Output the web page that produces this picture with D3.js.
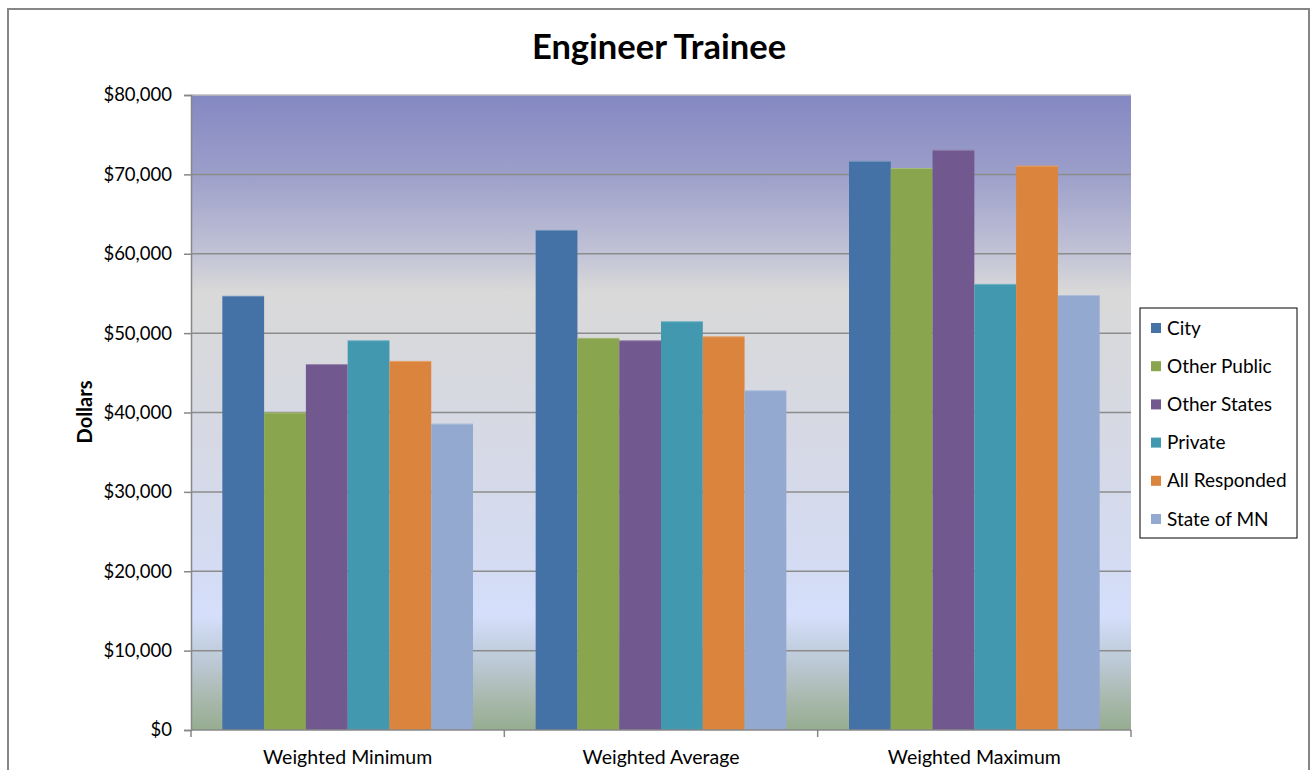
<!DOCTYPE html>
<html>
<head>
<meta charset="utf-8">
<script src="https://cdn.jsdelivr.net/npm/d3@7"></script>
<style>
  html, body { margin: 0; padding: 0; background: #ffffff; }
  svg { display: block; }
  text { font-family: Lato, "Open Sans", sans-serif; fill: #000; }
</style>
</head>
<body>
<svg id="chart" width="1310" height="770"></svg>
<script>
// Engineer Trainee salary survey
const categories = ["Weighted Minimum", "Weighted Average", "Weighted Maximum"];
const seriesNames = ["City", "Other Public", "Other States", "Private", "All Responded", "State of MN"];
const seriesColors = ["#4472A7", "#89A54E", "#71588F", "#4198AF", "#DB843D", "#93A9CF"];

const city         = [54700, 63000, 71700];
const otherPublic  = [40000, 49400, 70800];
const otherStates  = [46100, 49100, 73100];
const privateSec   = [49100, 51500, 56200];
const allResponded = [46500, 49600, 71100];
const stateOfMN    = [38600, 42800, 54800];

const yTickValues = [0, 10000, 20000, 30000, 40000, 50000, 60000, 70000, 80000];

const seriesValues = [city, otherPublic, otherStates, privateSec, allResponded, stateOfMN];

const rows = categories.map((c, i) => ({
  category: c,
  values: seriesNames.map((s, j) => ({ series: s, value: seriesValues[j][i], color: seriesColors[j] }))
}));

const svg = d3.select("#chart");

// chart frame
svg.append("rect")
  .attr("x", 8).attr("y", 9).attr("width", 1301).attr("height", 780)
  .attr("fill", "#fff").attr("stroke", "#868686").attr("stroke-width", 2);

const plot = { left: 191, right: 1131, top: 95, bottom: 730 };

const x0 = d3.scaleBand()
  .domain(categories)
  .range([plot.left, plot.right])
  .paddingInner(0.2)
  .paddingOuter(0.1);

const x1 = d3.scaleBand()
  .domain(seriesNames)
  .range([0, x0.bandwidth()]);

const y = d3.scaleLinear()
  .domain([0, 80000])
  .range([plot.bottom, plot.top]);

// plot area background
const defs = svg.append("defs");
const grad = defs.append("linearGradient")
  .attr("id", "plotBg").attr("x1", 0).attr("y1", 0).attr("x2", 0).attr("y2", 1);
[
  [0.00, "#8488C2"],
  [0.12, "#9B9EC9"],
  [0.25, "#C2C3D6"],
  [0.31, "#D9D9D9"],
  [0.40, "#D8D9DD"],
  [0.55, "#D6D9E5"],
  [0.75, "#D4DCF4"],
  [0.82, "#D5DFFB"],
  [0.86, "#C6D2E6"],
  [0.90, "#BAC7D1"],
  [0.95, "#A9B9AE"],
  [1.00, "#96AD90"]
].forEach(([o, c]) => grad.append("stop").attr("offset", o).attr("stop-color", c));

svg.append("rect")
  .attr("x", plot.left).attr("y", plot.top)
  .attr("width", plot.right - plot.left).attr("height", plot.bottom - plot.top)
  .attr("fill", "url(#plotBg)");

// horizontal gridlines
svg.append("g")
  .selectAll("line")
  .data(yTickValues.filter(v => v > 0))
  .join("line")
  .attr("x1", plot.left).attr("x2", plot.right)
  .attr("y1", d => y(d)).attr("y2", d => y(d))
  .attr("stroke", d => d === 80000 ? "#BDBDBD" : "#8C8C8C")
  .attr("stroke-width", 1.5);

// bars
const groups = svg.append("g")
  .selectAll("g")
  .data(rows)
  .join("g")
  .attr("transform", d => `translate(${x0(d.category)},0)`);

groups.selectAll("rect")
  .data(d => d.values)
  .join("rect")
  .attr("x", d => x1(d.series))
  .attr("width", x1.bandwidth())
  .attr("y", d => y(d.value))
  .attr("height", d => y(0) - y(d.value))
  .attr("fill", d => d.color);

// light top edge on each bar
groups.selectAll("line")
  .data(d => d.values)
  .join("line")
  .attr("x1", d => x1(d.series)).attr("x2", d => x1(d.series) + x1.bandwidth())
  .attr("y1", d => y(d.value) + 0.5).attr("y2", d => y(d.value) + 0.5)
  .attr("stroke", "#ffffff").attr("stroke-opacity", 0.25).attr("stroke-width", 1);

// y axis
const yAxis = svg.append("g")
  .attr("transform", `translate(${plot.left},0)`)
  .call(d3.axisLeft(y)
    .tickValues(yTickValues)
    .tickSize(7)
    .tickPadding(12)
    .tickFormat(d => "$" + d3.format(",")(d)));
yAxis.select(".domain").attr("stroke", "#878787").attr("stroke-width", 1.5);
yAxis.selectAll(".tick line").attr("stroke", "#878787").attr("stroke-width", 1.5);
yAxis.selectAll(".tick text")
  .style("font-family", "Lato, sans-serif")
  .attr("font-size", 18.5).attr("fill", "#000");

// x axis with tick marks at category boundaries
const xAxis = svg.append("g").attr("transform", `translate(0,${plot.bottom})`);
xAxis.append("line")
  .attr("x1", plot.left).attr("x2", plot.right)
  .attr("stroke", "#878787").attr("stroke-width", 1.5);
const step = x0.step();
const boundaries = d3.range(categories.length + 1).map(i => plot.left + i * step);
xAxis.selectAll("line.tick")
  .data(boundaries)
  .join("line")
  .attr("class", "tick")
  .attr("x1", d => d).attr("x2", d => d)
  .attr("y1", 0).attr("y2", 7)
  .attr("stroke", "#878787").attr("stroke-width", 1.5);
xAxis.selectAll("text")
  .data(categories)
  .join("text")
  .attr("x", d => x0(d) + x0.bandwidth() / 2)
  .attr("y", 34)
  .attr("text-anchor", "middle")
  .attr("font-size", 19.5)
  .text(d => d);

// title
svg.append("text")
  .attr("x", 659).attr("y", 59)
  .attr("text-anchor", "middle")
  .attr("font-size", 34.5).attr("font-weight", 700)
  .text("Engineer Trainee");

// y axis title
svg.append("text")
  .attr("transform", "translate(92,412) rotate(-90)")
  .attr("text-anchor", "middle")
  .attr("font-size", 20).attr("font-weight", 700)
  .text("Dollars");

// legend
const legend = svg.append("g").attr("transform", "translate(1140,308)");
legend.append("rect")
  .attr("x", 0).attr("y", 0).attr("width", 157).attr("height", 230)
  .attr("fill", "#fff").attr("stroke", "#000").attr("stroke-width", 1);
const items = legend.selectAll("g.item")
  .data(seriesNames)
  .join("g")
  .attr("class", "item")
  .attr("transform", (d, i) => `translate(0,${20 + i * 38.2})`);
items.append("rect")
  .attr("x", 11).attr("y", -5).attr("width", 10).attr("height", 10)
  .attr("fill", (d, i) => seriesColors[i]);
items.append("text")
  .attr("x", 27).attr("y", 0).attr("dy", "0.35em")
  .attr("font-size", 19)
  .text(d => d);
</script>
</body>
</html>
